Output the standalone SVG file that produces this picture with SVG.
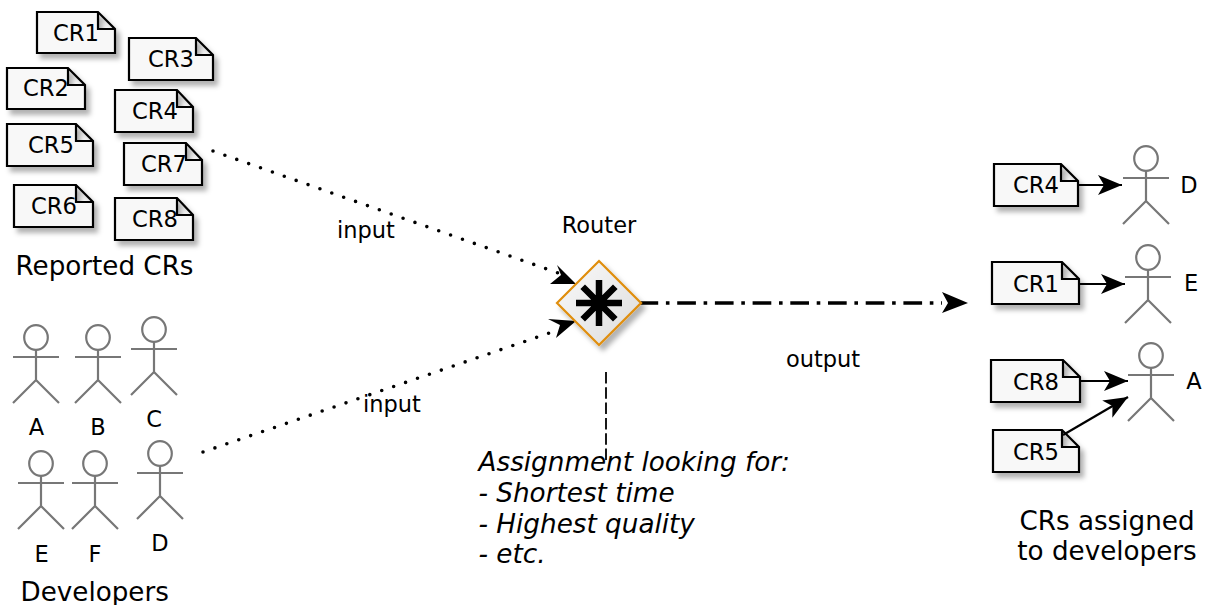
<svg xmlns="http://www.w3.org/2000/svg" xmlns:xlink="http://www.w3.org/1999/xlink" width="1205" height="605" viewBox="0 0 1205 605">
<style>
text{font-family:"DejaVu Sans",sans-serif;fill:#000}
.n{font-size:22.7px;text-anchor:middle}
.t{font-size:26.2px}
.c{font-size:22.5px;text-anchor:middle}
.i{font-size:26.25px;font-style:italic}
.note path{fill:#f8f8f8;stroke:#000;stroke-width:2.2;stroke-linejoin:miter}
.actor *{fill:none;stroke:#777;stroke-width:2.2}
.actor ellipse{fill:#fff;stroke:#999}
.dot{fill:none;stroke:#000;stroke-width:3.6;stroke-linecap:round;stroke-dasharray:0 12.6}
.arrow{fill:none;stroke:#000;stroke-width:2.2}
</style>
<defs>
<linearGradient id="dg" x1="0" y1="0" x2="1" y2="1"><stop offset="0" stop-color="#fafafa"/><stop offset="1" stop-color="#dcdcdc"/></linearGradient>
<filter id="sh" x="-20%" y="-20%" width="150%" height="150%"><feDropShadow dx="4" dy="5" stdDeviation="2.5" flood-color="#000" flood-opacity="0.3"/></filter>
<marker id="ah" markerUnits="userSpaceOnUse" markerWidth="28" markerHeight="22" refX="24" refY="10" orient="auto" viewBox="0 0 28 20"><path d="M0 0L24 10L0 20L6 10Z" fill="#000"/></marker>
<g id="actor"><ellipse cx="0" cy="12.5" rx="11.8" ry="12.3"/><path d="M0 25V55M-23 32H23M-23 78L0 55L23 78"/></g>
</defs>
<g id="connectors">
<path class="dot" d="M213 151L558 273"/>
<path class="dot" d="M203 452L558 330"/>
<path d="M576 284L550 284L561 275L557 265Z" fill="#000"/>
<path d="M576 321L548 319L560 325L556 338Z" fill="#000"/>
<path d="M639.5 303H942" fill="none" stroke="#000" stroke-width="3.6" stroke-dasharray="18.7 7.7 3.6 7.7"/>
<path d="M968 303L942 292L948 303L942 313Z" fill="#000"/>
<path d="M606 372V460" fill="none" stroke="#000" stroke-width="1.8" stroke-dasharray="11.5 3.8"/>
<path class="arrow" d="M1078 185H1122" marker-end="url(#ah)"/>
<path class="arrow" d="M1079 284H1125" marker-end="url(#ah)"/>
<path class="arrow" d="M1080 381H1128" marker-end="url(#ah)"/>
<path class="arrow" d="M1063 435L1128 397" marker-end="url(#ah)"/>
</g>
<g id="cr1"><g class="note" filter="url(#sh)"><path d="M37 12H98L115 29V53H37ZM98 12V29H115"/></g><text class="n" x="76" y="41">CR1</text></g>
<g id="cr3"><g class="note" filter="url(#sh)"><path d="M129 38H196L213 55V80H129ZM196 38V55H213"/></g><text class="n" x="171" y="67">CR3</text></g>
<g id="cr2"><g class="note" filter="url(#sh)"><path d="M7 68H68L85 85V109H7ZM68 68V85H85"/></g><text class="n" x="46" y="96">CR2</text></g>
<g id="cr4"><g class="note" filter="url(#sh)"><path d="M115 90H177L193 107V132H115ZM177 90V107H193"/></g><text class="n" x="155" y="119">CR4</text></g>
<g id="cr5"><g class="note" filter="url(#sh)"><path d="M7 124H76L93 141V166H7ZM76 124V141H93"/></g><text class="n" x="51" y="153">CR5</text></g>
<g id="cr7"><g class="note" filter="url(#sh)"><path d="M124 143H186L202 160V185H124ZM186 143V160H202"/></g><text class="n" x="164" y="172">CR7</text></g>
<g id="cr6"><g class="note" filter="url(#sh)"><path d="M14 185H76L93 202V227H14ZM76 185V202H93"/></g><text class="n" x="54" y="214">CR6</text></g>
<g id="cr8"><g class="note" filter="url(#sh)"><path d="M115 198H177L193 215V240H115ZM177 198V215H193"/></g><text class="n" x="155" y="227">CR8</text></g>
<text class="t" x="15.500" y="274.500">Reported CRs</text>
<g id="actor-a"><g class="actor"><use xlink:href="#actor" href="#actor" x="36" y="325"/></g><text class="c" x="36.500" y="435">A</text></g>
<g id="actor-b"><g class="actor"><use xlink:href="#actor" href="#actor" x="98" y="325"/></g><text class="c" x="98" y="435">B</text></g>
<g id="actor-c"><g class="actor"><use xlink:href="#actor" href="#actor" x="154" y="317"/></g><text class="c" x="154" y="427">C</text></g>
<g id="actor-e"><g class="actor"><use xlink:href="#actor" href="#actor" x="41" y="451"/></g><text class="c" x="41.500" y="562">E</text></g>
<g id="actor-f"><g class="actor"><use xlink:href="#actor" href="#actor" x="95" y="451"/></g><text class="c" x="95" y="562">F</text></g>
<g id="actor-d"><g class="actor"><use xlink:href="#actor" href="#actor" x="160" y="441"/></g><text class="c" x="160" y="551">D</text></g>
<text class="t" x="20.500" y="600.500">Developers</text>
<text class="c" x="366" y="238">input</text>
<text class="c" x="392" y="412">input</text>
<text class="c" x="599" y="233">Router</text>
<text class="c" x="823" y="367">output</text>
<g id="router">
<path d="M599 261L641 303L599 345L557 303Z" fill="url(#dg)" stroke="#e08e0b" stroke-width="2.2" filter="url(#sh)"/>
<path d="M599 280V326M576 303H622M582.700 286.700L615.300 319.300M582.700 319.300L615.300 286.700" stroke="#000" stroke-width="6.500" fill="none"/>
</g>
<text class="i" x="478.500" y="471">Assignment looking for:</text>
<text class="i" x="478.500" y="502">- Shortest time</text>
<text class="i" x="478.500" y="533">- Highest quality</text>
<text class="i" x="478.500" y="563">- etc.</text>
<g id="r-cr4"><g class="note" filter="url(#sh)"><path d="M994 164H1061L1078 181V206H994ZM1061 164V181H1078"/></g><text class="n" x="1036" y="193">CR4</text></g>
<g id="r-cr1"><g class="note" filter="url(#sh)"><path d="M992 262H1062L1079 279V304H992ZM1062 262V279H1079"/></g><text class="n" x="1036" y="292">CR1</text></g>
<g id="r-cr8"><g class="note" filter="url(#sh)"><path d="M991 360H1063L1080 377V402H991ZM1063 360V377H1080"/></g><text class="n" x="1036" y="390">CR8</text></g>
<g id="r-cr5"><g class="note" filter="url(#sh)"><path d="M993 430H1062L1079 447V472H993ZM1062 430V447H1079"/></g><text class="n" x="1036" y="460">CR5</text></g>
<g id="r-actor-d"><g class="actor"><use xlink:href="#actor" href="#actor" x="1146" y="146"/></g><text class="c" x="1189" y="193">D</text></g>
<g id="r-actor-e"><g class="actor"><use xlink:href="#actor" href="#actor" x="1148" y="245"/></g><text class="c" x="1191" y="291">E</text></g>
<g id="r-actor-a"><g class="actor"><use xlink:href="#actor" href="#actor" x="1151" y="343"/></g><text class="c" x="1194" y="389">A</text></g>
<text class="t" x="1107" y="530" text-anchor="middle">CRs assigned</text>
<text class="t" x="1107" y="560" text-anchor="middle">to developers</text>
</svg>
